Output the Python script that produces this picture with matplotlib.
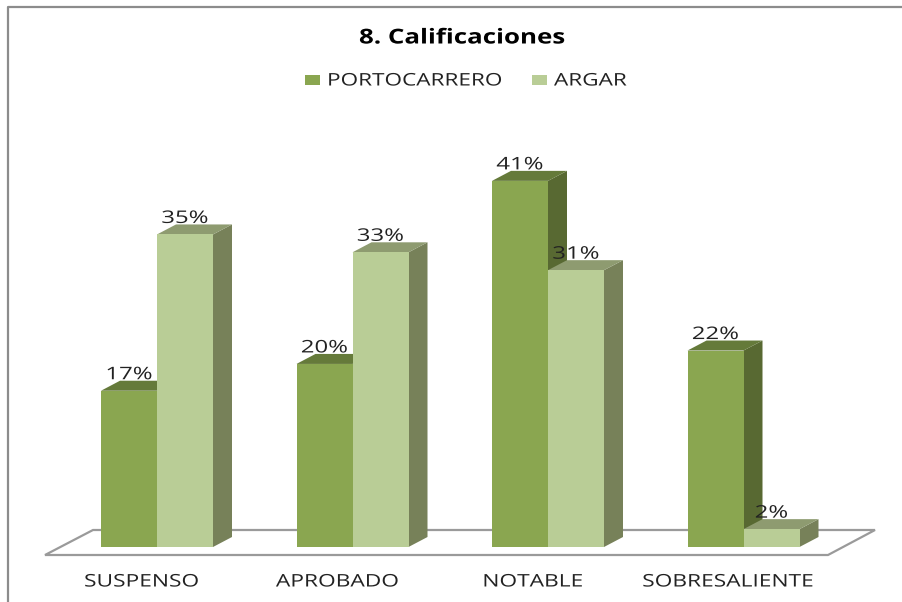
#!/usr/bin/env python3
"""Grouped pseudo-3D bar chart: 8. Calificaciones."""

import matplotlib

matplotlib.use("Agg")
import matplotlib.pyplot as plt
from matplotlib.lines import Line2D
from matplotlib.patches import Polygon, Rectangle
from matplotlib.patheffects import AbstractPathEffect
from matplotlib.transforms import Affine2D

categories = ["SUSPENSO", "APROBADO", "NOTABLE", "SOBRESALIENTE"]
portocarrero = [17.5, 20.5, 41, 22]
argar = [35, 33, 31, 2]
portocarrero_labels = ["17%", "20%", "41%", "22%"]
argar_labels = ["35%", "33%", "31%", "2%"]

W, H = 902, 602
PX_X = 195.5  # pixels per category
PX_Y = 8.93  # pixels per percent
X0, Y0 = 157, 547  # pixel position of first group centre / zero line

plt.rcParams["font.family"] = ["Open Sans", "DejaVu Sans"]

fig = plt.figure(figsize=(W / 100, H / 100), dpi=100)
ax = fig.add_axes([0, 0, 1, 1])
ax.set_xlim(-X0 / PX_X, (W - X0) / PX_X)
ax.set_ylim(-(H - Y0) / PX_Y, Y0 / PX_Y)
ax.axis("off")

bar_w = 56 / PX_X
dx = 19 / PX_X
dy = 10 / PX_Y


class StretchX(AbstractPathEffect):
    """The reference text is squashed wide, so widen glyphs around x0 (display px)."""

    def __init__(self, factor, x0):
        super().__init__()
        self.factor = factor
        self.x0 = x0

    def draw_path(self, renderer, gc, tpath, affine, rgbFace=None):
        stretch = Affine2D().translate(-self.x0, 0).scale(self.factor, 1).translate(self.x0, 0)
        renderer.draw_path(gc, tpath, affine + stretch, rgbFace)


def px(x, y):
    """Figure pixel (from top left) to data coords."""
    return (x - X0) / PX_X, (Y0 - y) / PX_Y


def put_text(x, y, s, factor, **kwargs):
    t = ax.text(x, y, s, **kwargs)
    t.set_path_effects([StretchX(factor, ax.transData.transform((x, y))[0])])
    return t


# floor
ax.add_patch(
    Polygon(
        [px(45, 555), px(93, 530), px(875, 530), px(828, 555)],
        closed=True,
        facecolor="white",
        edgecolor="#9a9a9a",
        linewidth=1.6,
        zorder=1,
    )
)


def draw_bars(xs, values, labels, front, side, top):
    for x, v, label in zip(xs, values, labels):
        ax.bar(x, v, width=bar_w, align="edge", color=front, linewidth=0, zorder=3)
        x1 = x + bar_w
        ax.add_patch(
            Polygon(
                [(x1, 0), (x1 + dx, dy), (x1 + dx, v + dy), (x1, v)],
                facecolor=side,
                linewidth=0,
                zorder=2.5,
            )
        )
        ax.add_patch(
            Polygon(
                [(x, v), (x + dx, v + dy), (x1 + dx, v + dy), (x1, v)],
                facecolor=top,
                linewidth=0,
                zorder=2.5,
            )
        )
        put_text(
            x + bar_w / 2,
            v + 0.75 * dy,
            label,
            1.38,
            ha="center",
            va="bottom",
            fontsize=12.5,
            color="#222222",
            zorder=5,
        )


positions = list(range(len(categories)))
draw_bars(
    [p - bar_w for p in positions],
    portocarrero,
    portocarrero_labels,
    "#8aa650",
    "#586932",
    "#657a3a",
)
draw_bars(positions, argar, argar_labels, "#b9cd96", "#778159", "#8e9b70")

# category labels sit a bit left of the group centre in the reference
for p, name in zip(positions, categories):
    put_text(p - 15 / PX_X, px(0, 582.5)[1], name, 1.31, ha="center", va="center", fontsize=12.5, color="#222222")

put_text(*px(462, 38), "8. Calificaciones", 1.26, ha="center", va="center", fontsize=14.8, fontweight="bold", color="black")

# legend
for x, colour, name in [(305, "#8aa650", "PORTOCARRERO"), (532, "#b9cd96", "ARGAR")]:
    lx, ly = px(x, 85)
    ax.add_patch(Rectangle((lx, ly), 15 / PX_X, 10 / PX_Y, facecolor=colour, linewidth=0))
    put_text(*px(x + 22, 81.5), name, 1.3, ha="left", va="center", fontsize=12.5, color="#222222")

# outer frame: left and top edges only, the image is cropped on the others
frame_x = [px(8, 0)[0], px(8, 0)[0], px(W, 0)[0]]
frame_y = [px(0, H)[1], px(0, 7)[1], px(0, 7)[1]]
ax.add_line(Line2D(frame_x, frame_y, color="#8c8c8c", linewidth=1.6))

fig.savefig("out.png", dpi=100)
